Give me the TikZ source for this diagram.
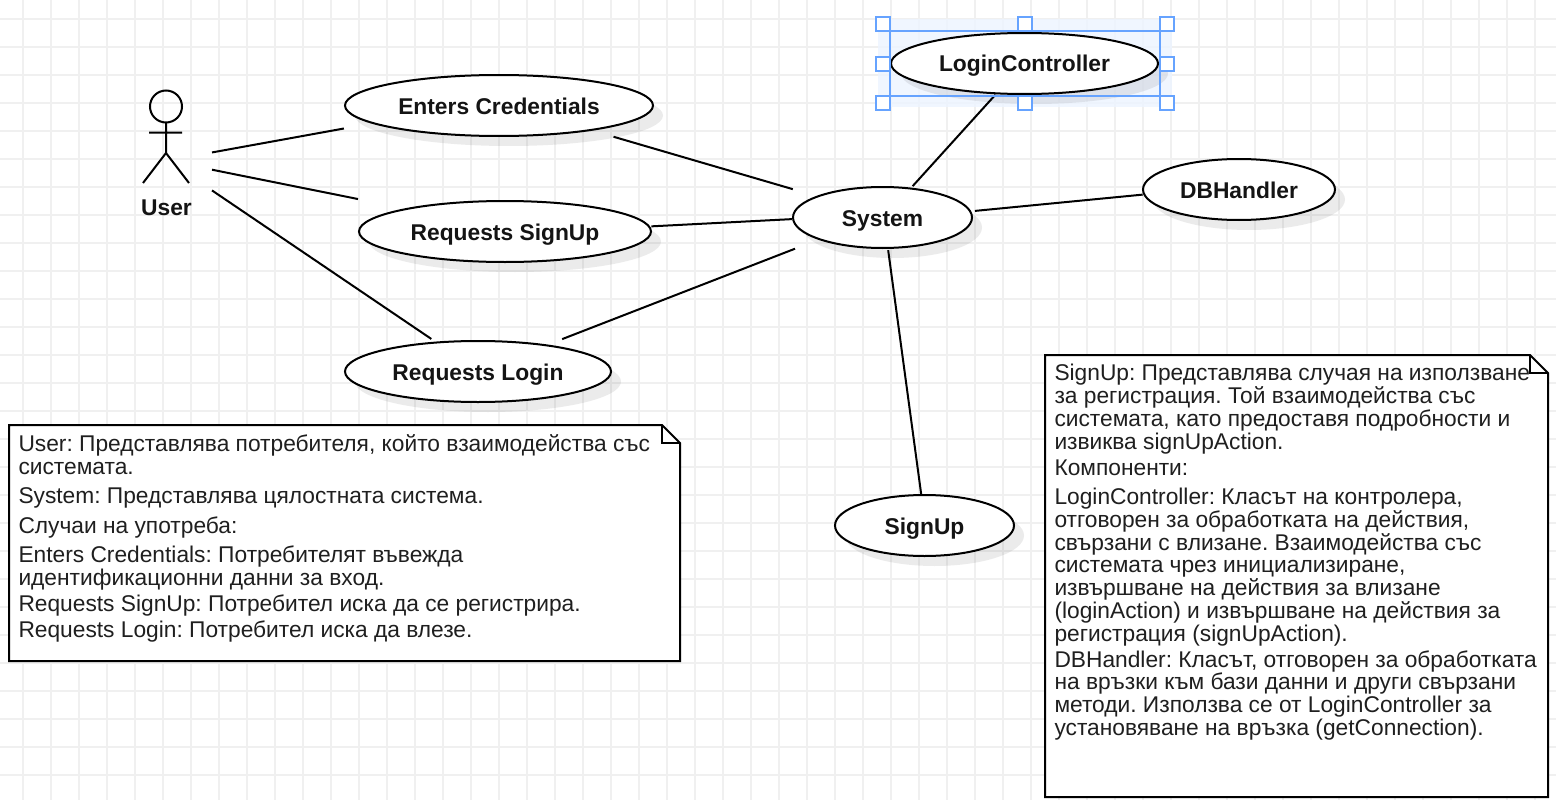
\documentclass[tikz,border=0pt]{standalone}
\usepackage{fontspec}
\setmainfont{Liberation Sans}
\usetikzlibrary{shapes.geometric,shadows}
\frenchspacing

\begin{document}
\begin{tikzpicture}[x=1pt,y=-1pt,line width=2pt,
					gridline/.style={draw=black!6,line width=2pt},
					usecase/.style={draw, ellipse, fill=white, inner sep=0pt, outer sep=0pt, minimum height=61pt,
						text height=20pt, text depth=3pt,
						font=\bfseries\fontsize{22.8}{24}\selectfont, text=black!92,
						drop shadow={shadow xshift=10pt, shadow yshift=-10pt, fill=black, opacity=.08}},
					actorbox/.style={rectangle, inner sep=0pt, outer sep=0pt, minimum width=92pt, minimum height=120pt},
					actorname/.style={inner sep=0pt, font=\bfseries\fontsize{22.8}{24}\selectfont, text=black!92},
					notebox/.style={draw, fill=white, line join=miter},
					notetext/.style={anchor=north west, inner sep=0pt, align=left, text=black!88,
						font=\fontsize{22.75}{22.8}\selectfont},
					glow/.style={fill=blue!60!cyan!7, draw=none, opacity=.8},
					selbox/.style={draw=blue!60!cyan!60!white},
					handle/.style={draw=blue!60!cyan!60!white, fill=white, rectangle, inner sep=0pt, minimum size=14pt}]
				\useasboundingbox (0,0) rectangle (1556,800);
				\fill[white] (0,0) rectangle (1556,800);
				\foreach \gx in {23,51,...,1556}
					\draw[gridline] (\gx,0) -- (\gx,800);
				\foreach \gy in {19,47,...,800}
					\draw[gridline] (0,\gy) -- (1556,\gy);
				% selection glow sits under the ellipse
				\fill[glow] (878,19) rectangle (1172,107);
				\node[usecase, minimum width=308pt] (enters) at (499,105.5) {Enters Credentials};
				\node[usecase, minimum width=292pt] (reqsignup) at (505,231.5) {Requests SignUp};
				\node[usecase, minimum width=266pt] (reqlogin) at (478,371.5) {Requests Login};
				\node[usecase, minimum width=179pt] (system) at (882.5,217.5) {System};
				\node[usecase, minimum width=267pt] (logincontroller) at (1024.5,63.5) {LoginController};
				\node[usecase, minimum width=192pt] (dbhandler) at (1239,189.5) {DBHandler};
				\node[usecase, minimum width=179pt] (signup) at (924.5,525.5) {SignUp};
				% actor
				\node[actorbox] (user) at (166,137.5) {};
				\node[actorname] (username) at (166.5,208) {User};
				\draw (166,106.5) circle (16);
				\draw (166,122.5) -- (166,153) (149,132.5) -- (182,132.5)
					(143,183) -- (166,153) -- (189,183);
				% connectors
				\draw[shorten >=30pt] (user.-18.06) -- (enters.188.4);
				\draw[shorten >=50pt] (user.-35.4) -- (reqsignup.167.9);
				\draw[shorten >=6.4pt] (user.-49.5) -- (reqlogin.145.3);
				\draw[shorten <=24pt, shorten >=26pt] (enters.-15.2) -- (system.162.95);
				\draw[shorten <=2.4pt, shorten >=1.3pt] (reqsignup.2.2) -- (system.181.5);
				\draw[shorten <=17.1pt, shorten >=26.3pt] (reqlogin.21.5) -- (system.199.65);
				\draw[shorten <=3.2pt, shorten >=2pt] (system.46.8) -- (logincontroller.227.9);
				\draw[shorten <=4.8pt, shorten >=1.6pt] (system.4.7) -- (dbhandler.183.3);
				\draw[shorten <=2.3pt, shorten >=1pt] (system.-80.2) -- (signup.96.4);
				% selection frame
				\draw[selbox] (890,31.5) rectangle (1160,96);
				\foreach \hx/\hy/\hname in {882.5/24/a,1024.5/24/b,1167/24/c,882.5/64/d,1167/64/e,882.5/103/f,1024.5/103/g,1167/103/h}
					\node[handle] (handle\hname) at (\hx,\hy) {};
				% notes
				\draw[notebox] (9,425) -- (662,425) -- (680,443) -- (680,661) -- (9,661) -- cycle;
				\draw (662,425) -- (662,443) -- (680,443);
				\node[notetext] (usernote) at (17.5,433.5) {User: Представлява потребителя, който взаимодейства със\\
					системата.\\[6.5pt]
					System: Представлява цялостната система.\\[7pt]
					Случаи на употреба:\\[6.5pt]
					Enters Credentials: Потребителят въвежда\\
					идентификационни данни за вход.\\[3pt]
					Requests SignUp: Потребител иска да се регистрира.\\[4pt]
					Requests Login: Потребител иска да влезе.};
				\draw[notebox] (1045,355) -- (1530,355) -- (1548,373) -- (1548,797) -- (1045,797) -- cycle;
				\draw (1530,355) -- (1530,373) -- (1548,373);
				\node[notetext] (signupnote) at (1053.5,363.5) {SignUp: Представлява случая на използване\\
					за регистрация. Той взаимодейства със\\
					системата, като предоставя подробности и\\
					извиква signUpAction.\\[3pt]
					Компоненти:\\[6.5pt]
					LoginController: Класът на контролера,\\
					отговорен за обработката на действия,\\
					свързани с влизане. Взаимодейства със\\
					системата чрез инициализиране,\\
					извършване на действия за влизане\\
					(loginAction) и извършване на действия за\\
					регистрация (signUpAction).\\[3pt]
					DBHandler: Класът, отговорен за обработката\\
					на връзки към бази данни и други свързани\\
					методи. Използва се от LoginController за\\
					установяване на връзка (getConnection).};
			\end{tikzpicture}
\end{document}
